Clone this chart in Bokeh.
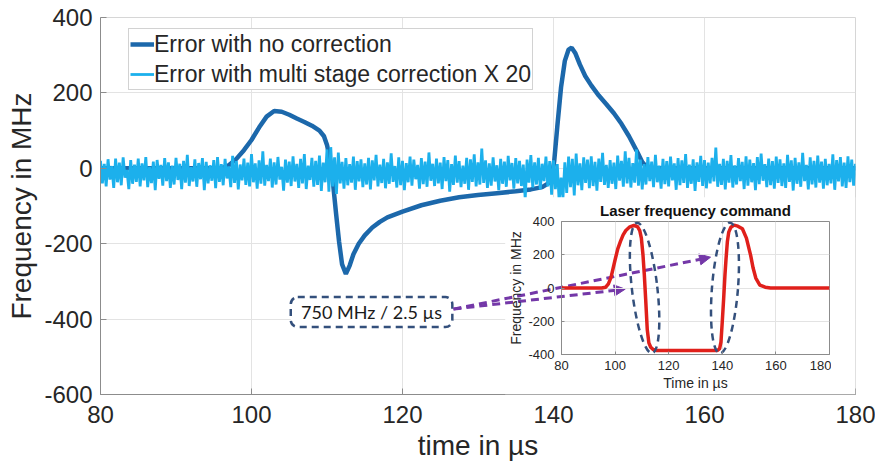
import numpy as np
from bokeh.plotting import figure
from bokeh.models import (Range1d, FixedTicker, Legend, LegendItem, BoxAnnotation,
                          Label, Arrow, NormalHead)
from bokeh.layouts import column
from bokeh.embed import file_html
from bokeh.resources import INLINE

# ---------------- data ----------------
x_ticks = [80, 100, 120, 140, 160, 180]
y_ticks_main = [-600, -400, -200, 0, 200, 400]
y_ticks_inset = [-400, -200, 0, 200, 400]

# error with no correction (MHz) vs time (us)
err_t = [80, 90, 96, 97, 98, 99, 100, 101, 102, 103, 104, 105, 106, 107, 108, 109,
         109.6, 110.0, 110.4, 110.8, 111.2, 111.6, 112.0, 112.5, 113.0, 113.5, 114.2,
         115, 116, 117, 118, 120, 122.5, 125, 127.5, 130, 132.5, 135, 137, 138.5,
         139.3, 139.8, 140.1, 140.5, 141, 141.5, 142, 142.4, 142.9, 143.5, 144.2,
         145, 146, 147, 148, 149, 150, 151, 151.8, 152.5, 180]
err_f = [0, 0, 0, 8, 25, 48, 75, 108, 137, 152, 150, 142, 132, 123, 113, 100,
         85, 62, 25, -40, -120, -195, -255, -280, -258, -228, -200,
         -178, -157, -142, -130, -115, -98, -86, -77, -71, -66, -61, -56, -50,
         -40, -20, 20, 110, 215, 285, 315, 320, 305, 275, 245,
         220, 193, 170, 146, 118, 85, 47, 15, 0, 0]

# error with multi stage correction x 20 (MHz), one sample every 0.25 us from 80 to 180
noise_f = [
    20, -40, 12, -48, 24, -30, 6, -52, 26, -37, 15, -45, 29, -25, -4, -55, 22, -41, 10, -36,
    26, -48, 13, -32, 30, -50, 4, -39, 18, -58, 22, -28, 9, -46, 27, -34, 16, -52, 7, -43,
    28, -31, 12, -55, 20, -38, 36, -47, 3, -35, 24, -49, 14, -29, 27, -58, 17, -40, 8, -33,
    22, -53, 30, -36, 11, -45, 25, -27, 5, -50, 33, -39, 19, -56, 10, -32, 26, -44, 15, -48,
    38, -37, 13, -54, 21, -41, 45, -46, 9, -34, 26, -51, 16, -43, 30, -30, 4, -59, 23, -38,
    18, -47, 32, -35, 12, -52, 25, -40, 38, -55, 7, -31, 28, -49, 20, -44, 34, -60, 15, -37,
    50, -62, 56, -48, 29, -68, 42, -40, 17, -54, 27, -45, 11, -38, 31, -57, 19, -35, 24, -50,
    13, -43, 28, -56, 21, -32, 36, -48, 10, -39, 25, -53, 16, -41, 40, -36, 6, -51, 29, -45,
    20, -58, 14, -37, 31, -46, 23, -29, 9, -54, 27, -42, 18, -49, 42, -33, 12, -47, 26, -40,
    15, -55, 30, -34, 22, -62, 11, -44, 34, -38, 19, -50, 7, -41, 28, -57, 24, -36, 37, -48,
    16, -43, 52, -39, 21, -52, 13, -46, 29, -35, 8, -58, 25, -41, 18, -49, 33, -32, 14, -54,
    27, -40, 20, -47, 10, -82, 23, -38, 35, -51, 16, -43, 28, -56, 12, -34, 31, -48, 19, -70,
    21, -55, 11, -88, -25, -80, 16, -65, 31, -50, 25, -72, 39, -45, 13, -58, 29, -39, 23, -53,
    32, -47, 17, -59, 26, -36, 41, -44, 9, -52, 22, -41, 15, -55, 34, -33, 20, -49, 45, -40,
    28, -51, 14, -38, 50, -46, 23, -56, 11, -43, 30, -34, 18, -50, 36, -37, 7, -54, 25, -42,
    19, -48, 31, -32, 13, -57, 27, -45, 21, -39, 38, -52, 10, -41, 24, -60, 16, -36, 33, -47,
    22, -53, 15, -40, 28, -35, 55, -49, 12, -44, 25, -56, 20, -38, 35, -51, 8, -43, 27, -34,
    17, -55, 32, -46, 23, -37, 14, -58, 30, -42, 39, -33, 11, -50, 26, -45, 19, -54, 31, -39,
    24, -47, 13, -52, 36, -36, 21, -59, 28, -41, 16, -49, 41, -34, 9, -56, 29, -43, 20, -51,
    34, -38, 18, -54, 25, -45, 12, -40, 37, -57, 22, -35, 30, -48, 15, -52, 32, -37, 23, -46,
    12,
]
noise_t = np.linspace(80, 180, len(noise_f))

# laser frequency command (inset)
cmd_t = [80, 95, 96.5, 97.5, 98.5, 100, 101, 102, 103, 104, 105.5, 107, 108.3, 109.2,
         109.8, 110.4, 110.9, 111.4, 112, 112.6, 113.3, 114.2, 115.5, 138.2, 139, 139.5,
         140, 140.5, 141, 141.4, 141.9, 142.4, 143.2, 144.4, 145.8, 147.5, 149, 150.6,
         151.5, 152.5, 154, 156, 158, 180]
cmd_f = [0, 0, 5, 25, 65, 170, 235, 280, 320, 346, 368, 376, 370, 345,
         300, 200, 80, -65, -250, -330, -356, -370, -376, -376, -365, -326,
         -200, -65, 80, 176, 280, 336, 365, 378, 372, 356, 300, 195,
         120, 60, 18, 5, 0, 0]

# ---------------- style / layout ----------------
FONT = "Liberation Sans"
DARK = "#1c68ab"
LIGHT = "#1cb0ec"
RED = "#e0201b"
NAVY = "#34507c"
PURPLE = "#7438a8"
TXT = "#262626"
AX = "#8c8c8c"
GRID = "#e3e3e3"

p = figure(frame_width=755, frame_height=377,
           x_range=Range1d(80, 180), y_range=Range1d(-600, 400),
           output_backend="svg", toolbar_location=None,
           min_border_left=100, min_border_top=17, min_border_right=20, min_border_bottom=70,
           background_fill_color="white", border_fill_color="white")
p.outline_line_color = "#d6d6d6"
p.xaxis.ticker = FixedTicker(ticks=x_ticks)
p.yaxis.ticker = FixedTicker(ticks=y_ticks_main)
p.xaxis.major_label_overrides = {t: str(t) for t in x_ticks}
p.yaxis.major_label_overrides = {t: str(t) for t in y_ticks_main}
p.xaxis.axis_label = "time in µs"
p.yaxis.axis_label = "Frequency in MHz"
for ax in (p.xaxis[0], p.yaxis[0]):
    ax.major_label_text_font = FONT
    ax.major_label_text_font_size = "24px"
    ax.major_label_text_color = TXT
    ax.axis_label_text_font = FONT
    ax.axis_label_text_font_size = "28px"
    ax.axis_label_text_font_style = "normal"
    ax.axis_label_text_color = TXT
    ax.axis_line_color = AX
    ax.major_tick_line_color = AX
    ax.major_tick_in = 6
    ax.major_tick_out = 0
    ax.minor_tick_line_color = None
p.xaxis.major_label_standoff = 11
p.yaxis.major_label_standoff = 8
p.xaxis.axis_label_standoff = 4
p.yaxis.axis_label_standoff = 4
p.xgrid.grid_line_color = GRID
p.ygrid.grid_line_color = GRID

r_err = p.line(err_t, err_f, line_color=DARK, line_width=4.5)
r_noise = p.line(noise_t, noise_f, line_color=LIGHT, line_width=2.8)

legend = Legend(items=[LegendItem(label="Error with no correction", renderers=[r_err]),
                       LegendItem(label="Error with multi stage correction X 20", renderers=[r_noise])],
                location=(28, 304), padding=1, spacing=2, margin=0,
                glyph_width=24, glyph_height=28, label_height=28, label_standoff=0,
                label_text_font=FONT, label_text_font_size="23px", label_text_color=TXT,
                border_line_color="#a6a6a6", border_line_width=1,
                background_fill_color="white", background_fill_alpha=1)
p.add_layout(legend)

# white area behind the inset picture
p.add_layout(BoxAnnotation(left=133.6, right=180, top=-77, bottom=-600,
                           fill_color="white", fill_alpha=1, line_alpha=0))

# dashed annotation box
p.add_layout(BoxAnnotation(left=105.2, right=126.6, top=-341.7, bottom=-421.2,
                           fill_color="white", fill_alpha=1, line_color=NAVY, line_alpha=1,
                           line_width=2.5, line_dash="7 5", border_radius=7))
p.add_layout(Label(x=115.9, y=-381, text="750 MHz / 2.5 µs", text_font="Lato",
                   text_font_size="18px", text_color="#1a1a1a",
                   text_align="center", text_baseline="middle"))

for xe, ye in [(160.8, -235.8), (149.5, -320.5)]:
    p.add_layout(Arrow(x_start=126.75, y_start=-373.5, x_end=xe, y_end=ye,
                       line_color=PURPLE, line_width=3, line_dash="8 5",
                       end=NormalHead(size=11, fill_color=PURPLE, line_color=PURPLE, line_width=1)))

# ---------------- inset ----------------
q = figure(frame_width=268, frame_height=133,
           x_range=Range1d(80, 180), y_range=Range1d(-400, 400),
           output_backend="svg", toolbar_location=None,
           min_border_left=69, min_border_top=25, min_border_right=33, min_border_bottom=42,
           background_fill_alpha=0, border_fill_alpha=0,
           title="Laser frequency command", margin=(-268, 0, 0, 461))
q.title.align = "center"
q.title.text_font = FONT
q.title.text_font_size = "15px"
q.title.text_font_style = "bold"
q.title.text_color = "#111111"
q.title.standoff = 6
q.outline_line_color = "#8c8c8c"
q.xaxis.ticker = FixedTicker(ticks=x_ticks)
q.yaxis.ticker = FixedTicker(ticks=y_ticks_inset)
q.xaxis.major_label_overrides = {t: str(t) for t in x_ticks}
q.yaxis.major_label_overrides = {t: str(t) for t in y_ticks_inset}
q.xaxis.axis_label = "Time in µs"
q.yaxis.axis_label = "Frequency in MHz"
for ax in (q.xaxis[0], q.yaxis[0]):
    ax.major_label_text_font = FONT
    ax.major_label_text_font_size = "13px"
    ax.major_label_text_color = TXT
    ax.axis_label_text_font = FONT
    ax.axis_label_text_font_size = "14px"
    ax.axis_label_text_font_style = "normal"
    ax.axis_label_text_color = TXT
    ax.axis_line_color = AX
    ax.major_tick_line_color = AX
    ax.major_tick_in = 3
    ax.major_tick_out = 0
    ax.minor_tick_line_color = None
q.xaxis.major_label_standoff = 6
q.yaxis.major_label_standoff = 7
q.xaxis.axis_label_standoff = 2
q.yaxis.axis_label_standoff = 1
q.xgrid.grid_line_color = GRID
q.ygrid.grid_line_color = GRID

q.line(cmd_t, cmd_f, line_color=RED, line_width=3.5)
for cx, w, ang in [(111.0, 9.5, 0.115), (141.0, 9.7, -0.08)]:
    q.ellipse(x=cx, y=0, width=w, height=790, angle=ang, fill_alpha=0,
              line_color=NAVY, line_width=2.5, line_dash="7 5")

layout = column(p, q)
open("out.html", "w").write(file_html(layout, INLINE))
